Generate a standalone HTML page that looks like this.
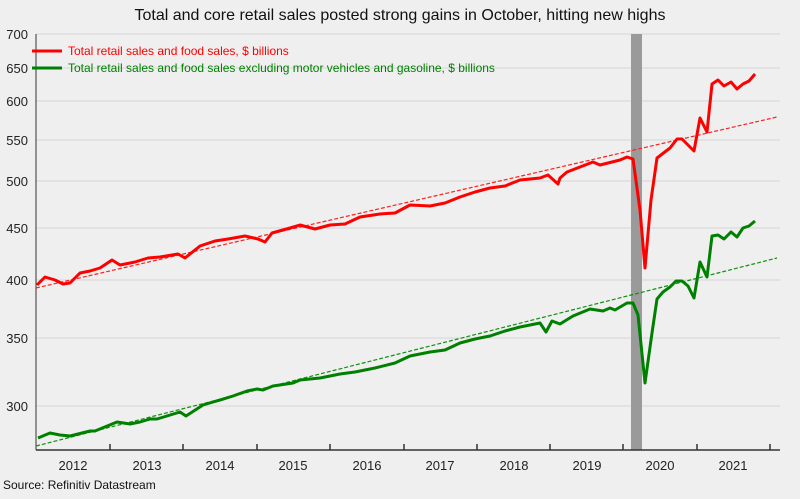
<!DOCTYPE html>
<html><head><style>body{margin:0;background:#efefef}</style></head><body>
<svg width="800" height="494" xmlns="http://www.w3.org/2000/svg" font-family="Liberation Sans, Arial, sans-serif">
<rect width="800" height="494" fill="#efefef"/>
<text x="400" y="20" text-anchor="middle" font-size="16" fill="#111">Total and core retail sales posted strong gains in October, hitting new highs</text>
<g stroke="#d4d4d4" stroke-width="1">
<line x1="36" x2="780" y1="34" y2="34"/><line x1="36" x2="780" y1="68" y2="68"/><line x1="36" x2="780" y1="101" y2="101"/><line x1="36" x2="780" y1="140" y2="140"/><line x1="36" x2="780" y1="181" y2="181"/><line x1="36" x2="780" y1="228" y2="228"/><line x1="36" x2="780" y1="280" y2="280"/><line x1="36" x2="780" y1="338" y2="338"/><line x1="36" x2="780" y1="406" y2="406"/>
</g>
<g font-size="13" fill="#222" text-anchor="end">
<text x="28" y="39">700</text><text x="28" y="73">650</text><text x="28" y="106">600</text><text x="28" y="145">550</text><text x="28" y="186">500</text><text x="28" y="233">450</text><text x="28" y="285">400</text><text x="28" y="343">350</text><text x="28" y="411">300</text>
</g>
<rect x="631" y="34" width="11" height="416" fill="#9a9a9a"/>
<line x1="36" y1="34" x2="36" y2="450" stroke="#333" stroke-width="1"/>
<line x1="36" y1="450" x2="780" y1="450" y2="450" stroke="#333" stroke-width="1.5"/>
<g stroke="#333" stroke-width="1.5">
<line x1="110" x2="110" y1="444" y2="450"/><line x1="183" x2="183" y1="444" y2="450"/><line x1="257" x2="257" y1="444" y2="450"/><line x1="330" x2="330" y1="444" y2="450"/><line x1="404" x2="404" y1="444" y2="450"/><line x1="477" x2="477" y1="444" y2="450"/><line x1="550" x2="550" y1="444" y2="450"/><line x1="623" x2="623" y1="444" y2="450"/><line x1="697" x2="697" y1="444" y2="450"/><line x1="770" x2="770" y1="444" y2="450"/>
</g>
<g font-size="13" fill="#222" text-anchor="middle">
<text x="73" y="470">2012</text><text x="147" y="470">2013</text><text x="220" y="470">2014</text><text x="293" y="470">2015</text><text x="367" y="470">2016</text><text x="440" y="470">2017</text><text x="514" y="470">2018</text><text x="587" y="470">2019</text><text x="660" y="470">2020</text><text x="733" y="470">2021</text>
</g>
<text x="3" y="489" font-size="12" fill="#111">Source: Refinitiv Datastream</text>
<line x1="36" y1="288" x2="777" y2="117" stroke="#ff2020" stroke-width="1.2" stroke-dasharray="4,2"/>
<line x1="36" y1="446" x2="777" y2="258" stroke="#109010" stroke-width="1.2" stroke-dasharray="4,2"/>
<polyline fill="none" stroke="#ff0000" stroke-width="3" stroke-linejoin="round" points="37,285 45,277 55,280 63,284 70,283 80,273 90,271 100,268 112,260 120,265 135,262 148,258 160,257 178,254 185,258 200,246 215,241 228,239 245,236 258,239 265,242 272,233 290,228 300,225 315,229 330,225 345,224 360,217 380,214 395,213 410,205 430,206 445,203 460,197 475,192 490,188 505,186 520,180 540,178 548,175 558,184 560,178 567,172 580,167 593,162 600,165 620,160 627,157 633,159 640,210 645,268 651,200 657,158 670,148 677,139 682,139 694,151 700,118 707,132 712,84 718,80 724,86 731,82 737,89 743,84 749,81 755,74"/>
<polyline fill="none" stroke="#008000" stroke-width="3" stroke-linejoin="round" points="38,438 50,433 60,435 70,436 90,431 95,431 117,422 130,424 140,422 150,419 157,419 180,412 186,416 203,405 213,402 220,400 233,396 247,391 257,389 263,390 273,386 293,383 300,380 320,378 340,374 355,372 375,368 395,363 410,356 430,352 445,350 460,343 475,339 490,336 505,331 520,327 540,323 546,332 552,321 560,324 573,316 590,309 603,311 610,308 615,310 627,303 633,303 638,315 645,383 652,333 657,299 663,292 670,287 676,281 682,281 688,286 694,298 700,262 707,277 712,236 718,235 724,239 731,232 737,237 743,228 749,226 755,221"/>
<line x1="32" y1="51" x2="62" y2="51" stroke="#ff0000" stroke-width="3"/>
<text x="68" y="55" font-size="12" fill="#ff0000">Total retail sales and food sales, $ billions</text>
<line x1="32" y1="68" x2="62" y2="68" stroke="#008000" stroke-width="3"/>
<text x="68" y="72" font-size="12" fill="#008000">Total retail sales and food sales excluding motor vehicles and gasoline, $ billions</text>
</svg>
</body></html>
